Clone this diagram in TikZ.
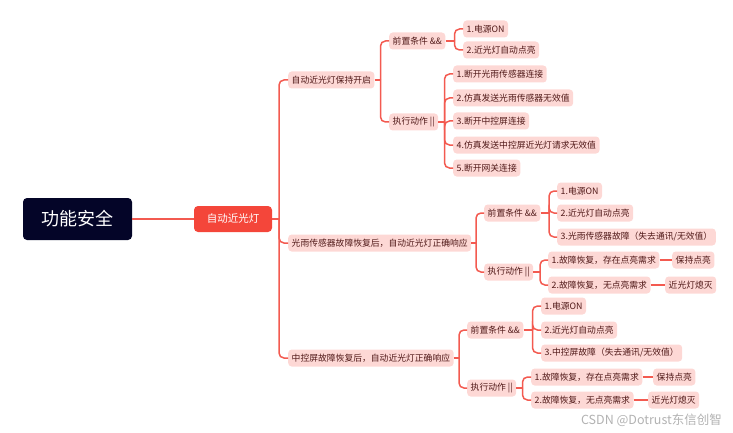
\documentclass[tikz,border=0pt]{standalone}
\usepackage{fontspec}
\setmainfont{Noto Sans CJK SC}
\definecolor{lc}{RGB}{243,90,80}
\definecolor{nfill}{RGB}{253,216,213}
\definecolor{ntext}{RGB}{80,25,24}
\definecolor{redc}{RGB}{244,70,58}
\definecolor{rootc}{RGB}{4,5,40}
\begin{document}
\begin{tikzpicture}[x=1pt,y=-1pt,
  leaf/.style={fill=nfill, rounded corners=3.5pt, text=ntext, font=\fontsize{8.8}{10}\selectfont, inner xsep=3.5pt, inner ysep=0pt, minimum height=17pt, anchor=west},
  rootbox/.style={fill=rootc, rounded corners=4pt, text=white, font=\fontsize{18}{20}\selectfont, minimum width=109pt, minimum height=42pt, inner sep=0pt},
  redbox/.style={fill=redc, rounded corners=4pt, text=white, font=\fontsize{10.5}{12}\selectfont, minimum width=78pt, minimum height=26pt, inner sep=0pt},
  conn/.style={draw=lc, line width=1.5pt, rounded corners=5pt},
  wm/.style={text=black!30, font=\fontsize{12.5}{14}\selectfont, anchor=east, inner sep=0pt}
]
\useasboundingbox (0,0) rectangle (733,433);

\node[rootbox] (root) at (77.5,219) {功能安全};
\node[redbox] (auto) at (233,219) {自动近光灯};

% level 1
\node[leaf] (a) at (288,80) {自动近光灯保持开启};
\node[leaf] (b) at (288,243) {光雨传感器故障恢复后，自动近光灯正确响应};
\node[leaf] (c) at (288,358) {中控屏故障恢复后，自动近光灯正确响应};

% branch a
\node[leaf] (a1) at (389,41) {前置条件 \&\&};
\node[leaf] (a2) at (389,122) {执行动作 ||};
\node[leaf] (a11) at (463,29) {1.电源ON};
\node[leaf] (a12) at (463,50) {2.近光灯自动点亮};
\node[leaf] (a21) at (453,74) {1.断开光雨传感器连接};
\node[leaf] (a22) at (453,98) {2.仿真发送光雨传感器无效值};
\node[leaf] (a23) at (453,121) {3.断开中控屏连接};
\node[leaf] (a24) at (453,145) {4.仿真发送中控屏近光灯请求无效值};
\node[leaf] (a25) at (453,168) {5.断开网关连接};

% branch b
\node[leaf] (b1) at (484,213) {前置条件 \&\&};
\node[leaf] (b2) at (484,272) {执行动作 ||};
\node[leaf] (b11) at (557,191) {1.电源ON};
\node[leaf] (b12) at (557,213) {2.近光灯自动点亮};
\node[leaf] (b13) at (557,237) {3.光雨传感器故障（失去通讯/无效值）};
\node[leaf] (b21) at (548,260) {1.故障恢复，存在点亮需求};
\node[leaf] (b22) at (548,285) {2.故障恢复，无点亮需求};
\node[leaf] (b211) at (672,260) {保持点亮};
\node[leaf] (b221) at (665,285) {近光灯熄灭};

% branch c
\node[leaf] (c1) at (467,330) {前置条件 \&\&};
\node[leaf] (c2) at (467,388) {执行动作 ||};
\node[leaf] (c11) at (541,306) {1.电源ON};
\node[leaf] (c12) at (541,330) {2.近光灯自动点亮};
\node[leaf] (c13) at (541,353) {3.中控屏故障（失去通讯/无效值）};
\node[leaf] (c21) at (531,377) {1.故障恢复，存在点亮需求};
\node[leaf] (c22) at (531,400) {2.故障恢复，无点亮需求};
\node[leaf] (c211) at (653,377) {保持点亮};
\node[leaf] (c221) at (648,400) {近光灯熄灭};

\node[wm] (wmark) at (722,420) {CSDN @Dotrust东信创智};

% junctions
\coordinate (j0) at (279,219);
\coordinate (ja) at (380.5,80);
\coordinate (ja1) at (454.5,41);
\coordinate (ja2) at (444.5,122);
\coordinate (jb) at (476,243);
\coordinate (jb1) at (549,213);
\coordinate (jb2) at (540,272);
\coordinate (jc) at (459,358);
\coordinate (jc1) at (532.5,330);
\coordinate (jc2) at (522.5,388);

% connectors
\draw[conn] (root.east) -- (auto.west);
\draw[conn] (auto.east) -- (j0);
\foreach \n in {a,b,c} \draw[conn] (j0) |- (\n.west);

\draw[conn] (a.east) -- (ja);
\foreach \n in {a1,a2} \draw[conn] (ja) |- (\n.west);
\draw[conn] (a1.east) -- (ja1);
\foreach \n in {a11,a12} \draw[conn] (ja1) |- (\n.west);
\draw[conn] (a2.east) -- (ja2);
\foreach \n in {a21,a22,a23,a24,a25} \draw[conn] (ja2) |- (\n.west);

\draw[conn] (b.east) -- (jb);
\foreach \n in {b1,b2} \draw[conn] (jb) |- (\n.west);
\draw[conn] (b1.east) -- (jb1);
\foreach \n in {b11,b12,b13} \draw[conn] (jb1) |- (\n.west);
\draw[conn] (b2.east) -- (jb2);
\foreach \n in {b21,b22} \draw[conn] (jb2) |- (\n.west);
\draw[conn] (b21.east) -- (b211.west);
\draw[conn] (b22.east) -- (b221.west);

\draw[conn] (c.east) -- (jc);
\foreach \n in {c1,c2} \draw[conn] (jc) |- (\n.west);
\draw[conn] (c1.east) -- (jc1);
\foreach \n in {c11,c12,c13} \draw[conn] (jc1) |- (\n.west);
\draw[conn] (c2.east) -- (jc2);
\foreach \n in {c21,c22} \draw[conn] (jc2) |- (\n.west);
\draw[conn] (c21.east) -- (c211.west);
\draw[conn] (c22.east) -- (c221.west);
\end{tikzpicture}
\end{document}
